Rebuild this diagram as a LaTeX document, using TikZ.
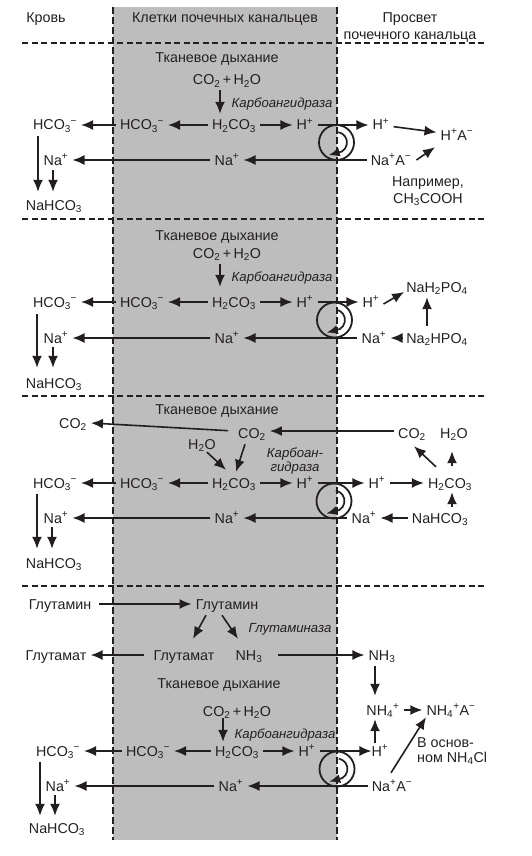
\documentclass[tikz,border=0pt]{standalone}
\usepackage{fontspec}
\setmainfont{Liberation Sans}
\usetikzlibrary{
  calc,
  positioning,
  arrows.meta
}
\definecolor{ink}{HTML}{231F20}
\definecolor{cellgray}{HTML}{BDBDBD}
\newcommand{\hcothree}{HCO\textsubscript{3}\kern-0.5pt\textsuperscript{−}}
\newcommand{\nahco}{NaHCO\textsubscript{3}}
\newcommand{\carbacid}{H\textsubscript{2}CO\textsubscript{3}}
\newcommand{\cotwo}{CO\textsubscript{2}}
\newcommand{\hwater}{H\textsubscript{2}O}
\newcommand{\naplus}{Na\textsuperscript{+}}
\newcommand{\hplus}{H\textsuperscript{+}}

\begin{document}
\begin{tikzpicture}[x=1pt,y=-1pt,> ={Latex[length=12pt,width=10pt]},color=ink]
  \tikzset{
    txt/.style={
      inner xsep=4pt,inner ysep=0pt,text height=12pt,text depth=2pt,
      font=\fontsize{14.3}{16}\selectfont,text=ink
    },
    enzyme/.style={txt,font=\fontsize{13.2}{15}\selectfont\itshape},
    arr/.style={->,line width=1.6pt},
    sep line/.style={line width=1.4pt,dash pattern=on 6pt off 3.5pt},
    wall/.style={line width=1.3pt,dash pattern=on 7pt off 3pt},
    pump/.style={circle,draw,line width=1.8pt,minimum size=35pt,inner sep=0pt},
    pump turn/.style={-{Latex[length=11pt,width=9pt]},line width=1.7pt},
  }
  \useasboundingbox (0,0) rectangle (531,856);

  \fill[cellgray] (113,7) rectangle (337,840);
  \draw[wall] (113,7) -- (113,840);
  \draw[wall] (337,7) -- (337,840);
  \draw[sep line] (22,43) -- (485,43);
  \draw[sep line] (22,219) -- (485,219);
  \draw[sep line] (22,396) -- (485,396);
  \draw[sep line] (22,586) -- (485,586);

  \node[txt] (blood) at (46,18) {Кровь};
  \node[txt] (cells) at (225,18) {Клетки почечных канальцев};
  \node[txt] (lumen) at (410,18) {Просвет};
  \node[txt] (lumen b) at (410,35) {почечного канальца};

  \node[txt] (resp1) at (217,58) {Тканевое дыхание};
  \node[txt] (cmix1) at (227,80) {\cotwo\,+\,\hwater};
  \node[enzyme] (enz1) at (282,103) {Карбоангидраза};
  \node[txt] (bhco1) at (55,125) {\hcothree};
  \node[txt] (chco1) at (142,125) {\hcothree};
  \node[txt] (ccarb1) at (234,125) {\carbacid};
  \node[txt] (ch1) at (305,125) {\hplus};
  \node[txt] (lh1) at (381,125) {\hplus};
  \node[txt] (lha1) at (457,135) {\hplus A\textsuperscript{−}};
  \node[pump] (pump1) at (336.5,142.5) {};
  \node[txt] (bna1) at (56,160) {\naplus};
  \node[txt] (cna1) at (227,160) {\naplus};
  \node[txt] (lna1) at (391,160) {\naplus A\textsuperscript{−}};
  \node[txt] (note1) at (428,181) {Например,};
  \node[txt] (note1b) at (428,198) {CH\textsubscript{3}COOH};
  \node[txt] (bsalt1) at (54,205) {\nahco};

  \draw[arr] ([xshift=-7pt,yshift=-3pt]cmix1.south) -- ([xshift=-14pt,yshift=4pt]ccarb1.north);
  \draw[arr] (ccarb1) -- (chco1);
  \draw[arr] (chco1) -- (bhco1);
  \draw[arr] (ccarb1) -- (ch1);
  \draw[arr] (ch1) -- (lh1);
  \draw[arr] (lh1) -- (lha1);
  \draw[arr] (lna1) -- (cna1);
  \draw[arr] (cna1) -- (bna1);
  \draw[arr] ([xshift=1pt]lna1.east) -- ([xshift=-22pt,yshift=-5pt]lha1.south);
  \draw[arr] ([xshift=-17pt,yshift=-4pt]bhco1.south) -- ([xshift=-16pt,yshift=6pt]bsalt1.north);
  \draw[arr] ([xshift=-3pt,yshift=-3pt]bna1.south) -- ([xshift=-1pt,yshift=6pt]bsalt1.north);
  \draw[pump turn] ([shift={(-80:10.5)}]pump1.center) arc[start angle=-80,end angle=60,radius=10.5] -- ++(-13,3.5);

  \node[txt] (resp2) at (217,235) {Тканевое дыхание};
  \node[txt] (cmix2) at (227,253) {\cotwo\,+\,\hwater};
  \node[enzyme] (enz2) at (282,276) {Карбоангидраза};
  \node[txt] (bhco2) at (55,302) {\hcothree};
  \node[txt] (chco2) at (142,302) {\hcothree};
  \node[txt] (ccarb2) at (234,302) {\carbacid};
  \node[txt] (ch2) at (305,302) {\hplus};
  \node[txt] (lh2) at (371,302) {\hplus};
  \node[txt] (lphos2) at (437,287) {NaH\textsubscript{2}PO\textsubscript{4}};
  \node[pump] (pump2) at (334.5,320) {};
  \node[txt] (bna2) at (56,338) {\naplus};
  \node[txt] (cna2) at (227,338) {\naplus};
  \node[txt] (lna2) at (374,338) {\naplus};
  \node[txt] (lbase2) at (437,338) {Na\textsubscript{2}HPO\textsubscript{4}};
  \node[txt] (bsalt2) at (54,383) {\nahco};

  \draw[arr] ([xshift=-7pt,yshift=-4pt]cmix2.south) -- ([xshift=-14pt,yshift=8pt]ccarb2.north);
  \draw[arr] (ccarb2) -- (chco2);
  \draw[arr] (chco2) -- (bhco2);
  \draw[arr] (ccarb2) -- (ch2);
  \draw[arr] (ch2) -- (lh2);
  \draw[arr] ([yshift=-2pt]lh2.east) -- ([xshift=2pt,yshift=-5pt]lphos2.west);
  \draw[arr] (lbase2) -- (lna2);
  \draw[arr] (lna2) -- (cna2);
  \draw[arr] (cna2) -- (bna2);
  \draw[arr] ([xshift=-10pt,yshift=5pt]lbase2.north) -- ([xshift=-10pt,yshift=-3pt]lphos2.south);
  \draw[arr] ([xshift=-18pt,yshift=-5pt]bhco2.south) -- ([xshift=-17pt,yshift=8pt]bsalt2.north);
  \draw[arr] ([xshift=-3pt,yshift=-2pt]bna2.south) -- ([xshift=-1pt,yshift=8pt]bsalt2.north);
  \draw[pump turn] ([shift={(-80:10.5)}]pump2.center) arc[start angle=-80,end angle=60,radius=10.5] -- ++(-13,3.5);

  \node[txt] (resp3) at (217,409) {Тканевое дыхание};
  \node[txt] (bco3) at (73,423) {\cotwo};
  \node[txt] (cco3) at (252,433) {\cotwo};
  \node[txt] (lco3) at (412,433) {\cotwo};
  \node[txt] (lwater3) at (454,433) {\hwater};
  \node[txt] (cwater3) at (202,444) {\hwater};
  \node[enzyme] (enz3) at (295,452) {Карбоан-};
  \node[enzyme] (enz3b) at (295,466) {гидраза};
  \node[txt] (bhco3) at (55,483) {\hcothree};
  \node[txt] (chco3) at (142,483) {\hcothree};
  \node[txt] (ccarb3) at (234,483) {\carbacid};
  \node[txt] (ch3) at (305,483) {\hplus};
  \node[txt] (lh3) at (377,483) {\hplus};
  \node[txt] (lcarb3) at (450,483) {\carbacid};
  \node[pump] (pump3) at (334,501) {};
  \node[txt] (bna3) at (56,518) {\naplus};
  \node[txt] (cna3) at (227,518) {\naplus};
  \node[txt] (lna3) at (364,518) {\naplus};
  \node[txt] (lsalt3) at (440,518) {\nahco};
  \node[txt] (bsalt3) at (54,563) {\nahco};

  \draw[arr,shorten <=6pt] ([yshift=2pt]cco3.west) -- (bco3.east);
  \draw[arr] ([yshift=2pt]lco3.west) -- ([yshift=2pt]cco3.east);
  \draw[arr] ([xshift=5pt,yshift=-1pt]cwater3.south) -- ([xshift=-8pt,yshift=6pt]ccarb3.north);
  \draw[arr] ([xshift=-7pt,yshift=-4pt]cco3.south) -- ([xshift=2pt,yshift=4pt]ccarb3.north);
  \draw[arr] (ccarb3) -- (chco3);
  \draw[arr] (chco3) -- (bhco3);
  \draw[arr] (ccarb3) -- (ch3);
  \draw[arr] (ch3) -- (lh3);
  \draw[arr] (lh3) -- (lcarb3);
  \draw[arr] ([xshift=-14pt,yshift=9pt]lcarb3.north) -- ([xshift=2pt,yshift=-6pt]lco3.south);
  \draw[arr] ([xshift=2pt,yshift=10pt]lcarb3.north) -- ([xshift=-2pt,yshift=-11pt]lwater3.south);
  \draw[arr] ([xshift=12pt,yshift=4pt]lsalt3.north) -- ([xshift=2pt,yshift=-2pt]lcarb3.south);
  \draw[arr] (lsalt3) -- (lna3);
  \draw[arr] (lna3) -- (cna3);
  \draw[arr] (cna3) -- (bna3);
  \draw[arr] ([xshift=-18pt,yshift=-4pt]bhco3.south) -- ([xshift=-17pt,yshift=7pt]bsalt3.north);
  \draw[arr] ([xshift=-4pt,yshift=-2pt]bna3.south) -- ([xshift=-2pt,yshift=7pt]bsalt3.north);
  \draw[pump turn] ([shift={(-80:10.5)}]pump3.center) arc[start angle=-80,end angle=60,radius=10.5] -- ++(-13,3.5);

  \node[txt] (bgln4) at (60,604) {Глутамин};
  \node[txt] (cgln4) at (227,604) {Глутамин};
  \node[enzyme] (enz4) at (290,627) {Глутаминаза};
  \node[txt] (bglu4) at (56,655) {Глутамат};
  \node[txt] (cglu4) at (184,655) {Глутамат};
  \node[txt] (cnh4) at (249,655) {NH\textsubscript{3}};
  \node[txt] (lnh4) at (382,655) {NH\textsubscript{3}};
  \node[txt] (resp4) at (219,683) {Тканевое дыхание};
  \node[txt] (cmix4) at (237,711) {\cotwo\,+\,\hwater};
  \node[txt] (lammo4) at (383,710) {NH\textsubscript{4}\textsuperscript{+}};
  \node[txt] (lamma4) at (451,710) {NH\textsubscript{4}\textsuperscript{+}A\textsuperscript{−}};
  \node[enzyme] (enz4b) at (285,733) {Карбоангидраза};
  \node[txt,anchor=west] (note4) at (413,742) {В основ-};
  \node[txt,anchor=west] (note4b) at (413,757) {ном NH\textsubscript{4}Cl};
  \node[txt] (bhco4) at (58,751) {\hcothree};
  \node[txt] (chco4) at (148,751) {\hcothree};
  \node[txt] (ccarb4) at (237,751) {\carbacid};
  \node[txt] (ch4) at (307,751) {\hplus};
  \node[txt] (lh4) at (380,751) {\hplus};
  \node[pump] (pump4) at (337,769) {};
  \node[txt] (bna4) at (58,786) {\naplus};
  \node[txt] (cna4) at (231,786) {\naplus};
  \node[txt] (lna4) at (392,786) {\naplus A\textsuperscript{−}};
  \node[txt] (bsalt4) at (57,828) {\nahco};

  \draw[arr,shorten <=4pt] (bgln4) -- (cgln4);
  \draw[arr] ([xshift=-21pt,yshift=-4pt]cgln4.south) -- ([xshift=9pt,yshift=9pt]cglu4.north);
  \draw[arr] ([xshift=-5pt,yshift=-4pt]cgln4.south) -- ([xshift=-11pt,yshift=9pt]cnh4.north);
  \draw[arr,shorten <=5pt] (cglu4) -- (bglu4);
  \draw[arr,shorten <=11pt] (cnh4) -- (lnh4);
  \draw[arr] ([xshift=-7pt,yshift=-4pt]lnh4.south) -- ([xshift=-8pt,yshift=7pt]lammo4.north);
  \draw[arr] ([xshift=-14pt]cmix4.south) -- ([xshift=-14pt,yshift=2pt]ccarb4.north);
  \draw[arr] (lammo4) -- (lamma4);
  \draw[arr] ([xshift=-5pt,yshift=1pt]lh4.north) -- ([xshift=-8pt,yshift=-2pt]lammo4.south);
  \draw[arr] (ccarb4) -- (chco4);
  \draw[arr] (chco4) -- (bhco4);
  \draw[arr] (ccarb4) -- (ch4);
  \draw[arr,shorten >=-4pt] (ch4) -- (lh4);
  \draw[arr] ([xshift=-1pt,yshift=6pt]lna4.north) -- ([xshift=-25pt]lamma4.south);
  \draw[arr] (lna4) -- (cna4);
  \draw[arr] (cna4) -- (bna4);
  \draw[arr] ([xshift=-18pt,yshift=-4pt]bhco4.south) -- ([xshift=-17pt,yshift=5pt]bsalt4.north);
  \draw[arr] ([xshift=-3pt,yshift=-2pt]bna4.south) -- ([xshift=-2pt,yshift=5pt]bsalt4.north);
  \draw[pump turn] ([shift={(-80:10.5)}]pump4.center) arc[start angle=-80,end angle=60,radius=10.5] -- ++(-13,3.5);
\end{tikzpicture}
\end{document}
